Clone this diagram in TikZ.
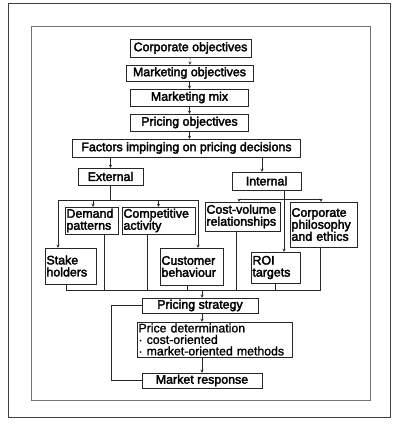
\documentclass[tikz,border=0pt]{standalone}
\usepackage{fontspec}
\setmainfont{Liberation Sans}
\newfontfamily\scanfont{Liberation Sans}[FakeBold=2.6]
\newfontfamily\scanlight{Liberation Sans}[FakeBold=1.4]
\usetikzlibrary{arrows, positioning}
\tikzstyle{arrow} = [->, >=stealth, draw=black!85]
\tikzstyle{link} = [draw=black!85]
\tikzstyle{block} = [rectangle, draw = black!85, inner sep=1.5pt, minimum height=17pt, font=\scanfont\fontsize{12.4}{12}\selectfont]
\tikzstyle{multi} = [block, align=left]

\begin{document}
\begin{tikzpicture}[x=1pt,y=-1pt]

\useasboundingbox (0,0) rectangle (400,426);

% frames:
\draw[black!75, line width=0.8pt] (8,3) rectangle (390,417);
\draw[black!55] (31,26) rectangle (370,400);

% objectives column:
\node(corp)[block, minimum width=121pt, minimum height=18pt] at (190.5,48) {Corporate objectives};
\node(mobj)[block, minimum width=127pt, minimum height=16pt, below of=corp, node distance=25pt, xshift=-1pt] {Marketing objectives};
\node(mmix)[block, minimum width=118pt, below of=mobj, node distance=24.5pt] {Marketing mix};
\node(pobj)[block, minimum width=118pt, below of=mmix, node distance=25pt] {Pricing objectives};
\node(factors)[block, minimum width=228pt, minimum height=18pt, below of=pobj, node distance=25.5pt, xshift=-3pt] {Factors impinging on pricing decisions};

% external factors:
\node(ext)[block, minimum width=65pt] at (110.5,176.5) {External};
\node(demand)[multi, text width=50pt, minimum height=27pt] at (91.5,220.5) {Demand\\patterns};
\node(compet)[multi, text width=70pt, minimum height=27pt] at (158.5,220.5) {Competitive\\activity};
\node(stake)[multi, text width=48pt, minimum height=36pt] at (70.5,266) {Stake\\holders};
\node(cust)[multi, text width=60pt, minimum height=37pt] at (191.5,266.5) {Customer\\behaviour};

% internal factors:
\node(int)[block, minimum width=69pt, minimum height=18pt] at (266.5,181) {Internal};
\node(costvol)[multi, text width=72pt, minimum height=29pt] at (242.5,216.5) {Cost-volume\\relationships};
\node(corpphil)[multi, text width=64pt, minimum height=45pt] at (323.5,224.5) {Corporate\\philosophy\\and ethics};
\node(roi)[multi, text width=46pt, minimum height=31pt] at (275.5,267.5) {ROI\\targets};

% strategy column:
\node(pstrat)[block, minimum width=116pt, minimum height=15pt] at (200,305.5) {Pricing strategy};
\node(pdet)[block, align=left, text width=152pt, minimum height=35pt, font=\scanlight\fontsize{12.3}{11.5}\selectfont] at (214.5,339.5)
{Price determination\\
· cost-oriented\\
· market-oriented methods};
\node(mresp)[block, minimum width=120pt, minimum height=15pt] at (202,380.5) {Market response};

% connectors:
\coordinate (ebus) at (110.5,200);
\coordinate (ibus) at (284,199);
\coordinate (bbus) at (202,290);

\draw[arrow] (corp) -- (mobj);
\draw[arrow] (mobj) -- (mmix);
\draw[arrow] (mmix) -- (pobj);
\draw[arrow] (pobj) -- (pobj |- factors.north);
\draw[arrow] (factors.south -| ext) -- (ext.north);
\draw[arrow] ([xshift=-4.5pt]int.north |- factors.south) -- ([xshift=-4.5pt]int.north);

\draw[link] (ext.south) -- (ebus);
\draw[arrow] (ebus) -| ([xshift=-12.5pt]stake.north);
\draw[arrow] (ebus) -| ([xshift=1.5pt]demand.north);
\draw[arrow] (ebus) -| (compet.north);
\draw[arrow] (ebus) -| ([xshift=6.5pt]cust.north);

\draw[arrow] ([xshift=17.5pt]int.south) -- ([xshift=8.5pt]roi.north);
\draw[arrow] (ibus) -| ([xshift=-3.5pt]costvol.north);
\draw[arrow] (ibus) -| ([xshift=-2.5pt]corpphil.north);

\draw[link] ([xshift=-4.5pt]stake.south) |- (bbus);
\draw[link] ([xshift=12.5pt]demand.south) |- (bbus);
\draw[link] ([xshift=-11.5pt]compet.south) |- (bbus);
\draw[link] ([xshift=-4.5pt]cust.south) |- (bbus);
\draw[link] ([xshift=-6.5pt]costvol.south) |- (bbus);
\draw[link] (roi.south) |- (bbus);
\draw[link] ([xshift=-3.5pt]corpphil.south) |- (bbus);

\draw[arrow] (bbus) -- (bbus |- pstrat.north);
\draw[arrow] (pstrat.south -| bbus) -- (pdet.north -| bbus);
\draw[arrow] (pdet.south -| bbus) -- (mresp.north -| bbus);
\draw[link] (mresp.west) -- ++(-31,0) |- (pstrat.west);

\end{tikzpicture}
\end{document}
